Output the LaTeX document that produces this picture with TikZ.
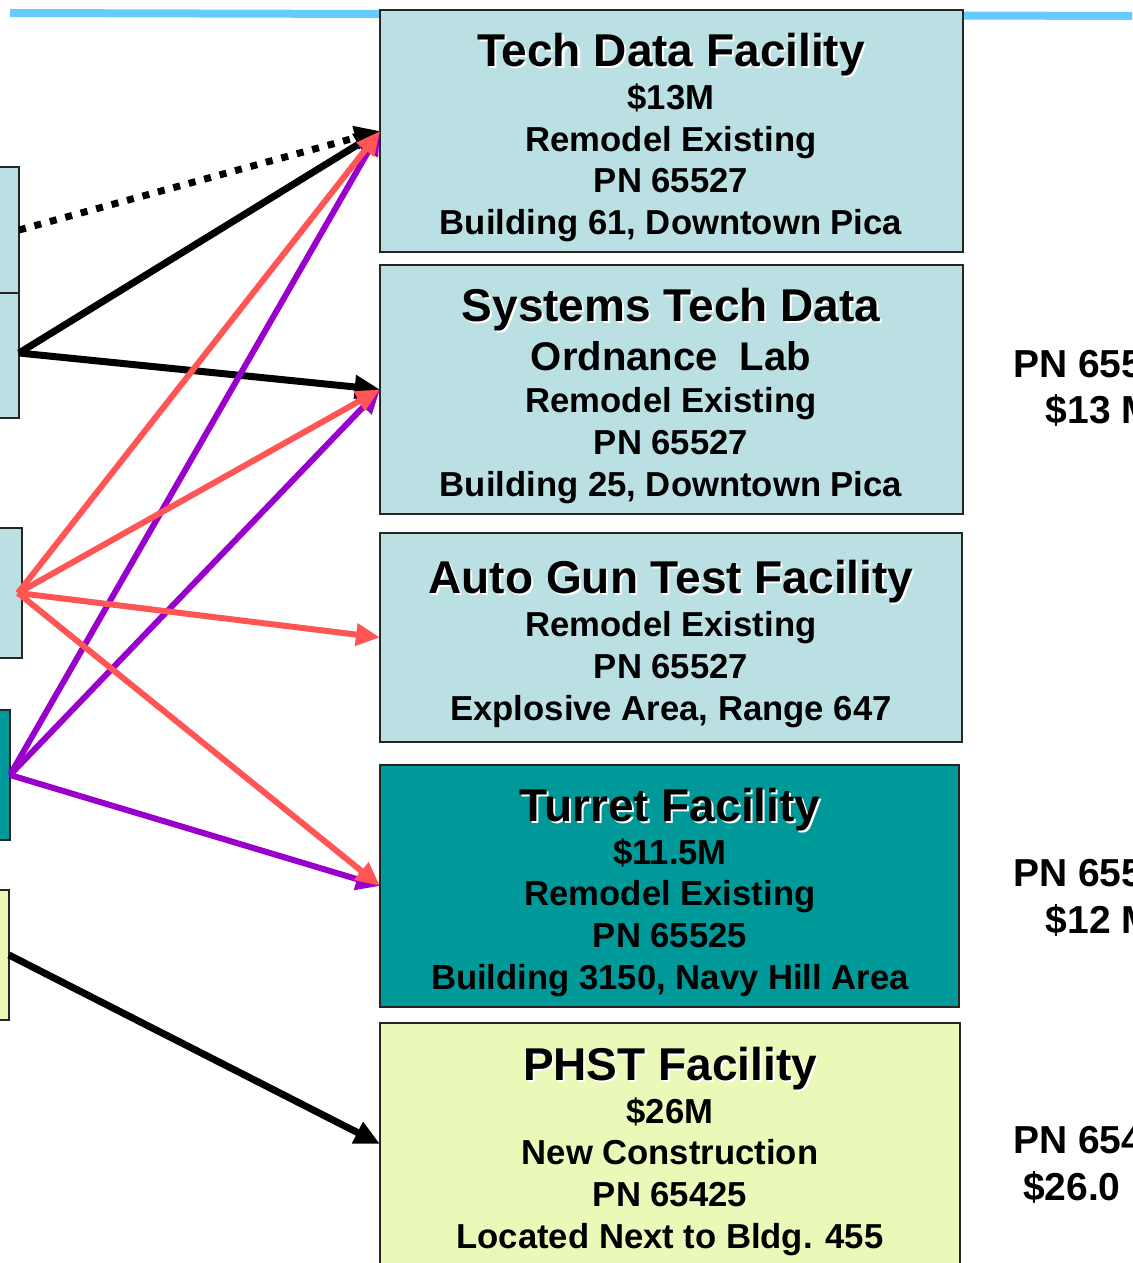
\documentclass[tikz,border=0pt]{standalone}
\usepackage{fontspec}
\setmainfont{Liberation Sans}
\usetikzlibrary{arrows.meta}
\definecolor{lblue}{HTML}{BBE0E3}
\definecolor{tealbox}{HTML}{009999}
\definecolor{lyel}{HTML}{EAF8B8}
\definecolor{topline}{HTML}{66CCFF}
\definecolor{redar}{HTML}{FF5555}
\definecolor{purar}{HTML}{9900CC}
\tikzset{
  fbox/.style={draw=black!85, line width=1.5pt, inner sep=0pt, outer sep=0pt},
  ttl/.style={font=\bfseries\fontsize{34.5}{36}\selectfont, text height=24.7pt, text depth=0pt, inner sep=0pt},
  ttlshadow/.style={ttl, text=white},
  mid/.style={font=\bfseries\fontsize{30}{32}\selectfont, text height=21.5pt, text depth=0pt, inner sep=0pt},
  body/.style={font=\bfseries\fontsize{26}{28}\selectfont, text height=18.6pt, text depth=0pt, inner sep=0pt},
  side/.style={font=\bfseries\fontsize{29.25}{31}\selectfont, text height=20.9pt, text depth=0pt, inner sep=0pt},
  blkar/.style={draw=black, line width=5.25pt, -{Triangle[length=19pt,width=17pt]}},
  dotar/.style={blkar, dash pattern=on 5.25pt off 6.75pt},
  redarrow/.style={draw=redar, line width=4.5pt, -{Triangle[length=18pt,width=16pt]}},
  purarrow/.style={draw=purar, line width=4.5pt, -{Triangle[length=18pt,width=16pt]}}
}
\begin{document}
\begin{tikzpicture}[x=0.75pt,y=-0.75pt]
\useasboundingbox (0,0) rectangle (1132,1263);
\clip (0,0) rectangle (1132,1263);

% top line
\coordinate (tlA) at (10,13);
\coordinate (tlB) at (1140,16);
\draw[topline, line width=6pt] (tlA) -- (tlB);

% left partial boxes
\node[fbox, fill=lblue, minimum width=40*0.75pt, minimum height=130*0.75pt] (lB) at (-1,353) {};
\node[fbox, fill=lblue, minimum width=40*0.75pt, minimum height=126*0.75pt] (lA) at (-1,230) {};
\node[fbox, fill=lblue, minimum width=42*0.75pt, minimum height=130*0.75pt] (lC) at (1,593) {};
\node[fbox, fill=tealbox, minimum width=30*0.75pt, minimum height=130*0.75pt] (lD) at (-5,775) {};
\node[fbox, fill=lyel, minimum width=29*0.75pt, minimum height=130*0.75pt] (lE) at (-5.5,955) {};

% right boxes
\node[fbox, fill=lblue, minimum width=583*0.75pt, minimum height=242*0.75pt] (b1) at (671.5,131) {};
\node[fbox, fill=lblue, minimum width=583*0.75pt, minimum height=249*0.75pt] (b2) at (671.5,389.5) {};
\node[fbox, fill=lblue, minimum width=582*0.75pt, minimum height=209*0.75pt] (b3) at (671,637.5) {};
\node[fbox, fill=tealbox, minimum width=579*0.75pt, minimum height=242*0.75pt] (b4) at (669.5,886) {};
\node[fbox, fill=lyel, minimum width=580*0.75pt, minimum height=242*0.75pt] (b5) at (670,1144) {};

% box 1 text
\node[ttlshadow] (b1s) at (673,52) {Tech Data Facility};
\node[ttl] (b1a) at (671,50) {Tech Data Facility};
\node[body] (b1b) at (671,97) {\$13M};
\node[body] (b1c) at (671,139) {Remodel Existing};
\node[body] (b1d) at (671,180) {PN 65527};
\node[body] (b1e) at (671,222) {Building 61, Downtown Pica};

% box 2 text
\node[ttlshadow] (b2s) at (673,307) {Systems Tech Data};
\node[ttl] (b2a) at (671,305) {Systems Tech Data};
\node[mid] (b2b) at (671,356) {Ordnance\ \ Lab};
\node[body] (b2c) at (671,400) {Remodel Existing};
\node[body] (b2d) at (671,442) {PN 65527};
\node[body] (b2e) at (671,484) {Building 25, Downtown Pica};

% box 3 text
\node[ttlshadow] (b3s) at (673,579) {Auto Gun Test Facility};
\node[ttl] (b3a) at (671,577) {Auto Gun Test Facility};
\node[body] (b3b) at (671,624) {Remodel Existing};
\node[body] (b3c) at (671,666) {PN 65527};
\node[body] (b3d) at (671,708) {Explosive Area, Range 647};

% box 4 text
\node[ttlshadow] (b4s) at (672,807) {Turret Facility};
\node[ttl] (b4a) at (670,805) {Turret Facility};
\node[body] (b4b) at (670,852) {\$11.5M};
\node[body] (b4c) at (670,893) {Remodel Existing};
\node[body] (b4d) at (670,935) {PN 65525};
\node[body] (b4e) at (670,977) {Building 3150, Navy Hill Area};

% box 5 text
\node[ttlshadow] (b5s) at (672,1066) {PHST Facility};
\node[ttl] (b5a) at (670,1064) {PHST Facility};
\node[body] (b5b) at (670,1111) {\$26M};
\node[body] (b5c) at (670,1152) {New Construction};
\node[body] (b5d) at (670,1194) {PN 65425};
\node[body] (b5e) at (670,1236) {Located Next to Bldg. 455};

% right side labels (cut off by the page edge, as in the reference)
\node[side] (r1a) at (1100,364) {PN 65527};
\node[side] (r1b) at (1100,410) {\$13 M};
\node[side] (r2a) at (1100,873) {PN 65525};
\node[side] (r2b) at (1100,920) {\$12 M};
\node[side] (r3a) at (1100,1140) {PN 65425};
\node[side] (r3b) at (1093.5,1187) {\$26.0 M};

% connectors
\draw[dotar] (lA.east) -- (b1.west);
\draw[blkar] (lB.east) -- (b1.west);
\draw[blkar] (lB.east) -- (b2.west);
\draw[purarrow] (lD.east) -- (b1.west);
\draw[purarrow] (lD.east) -- (b2.west);
\draw[purarrow] (lD.east) -- (b4.west);
\draw[redarrow] ([xshift=-3pt]lC.east) -- (b1.west);
\draw[redarrow] ([xshift=-3pt]lC.east) -- (b2.west);
\draw[redarrow] ([xshift=-3pt]lC.east) -- (b3.west);
\draw[redarrow] ([xshift=-3pt]lC.east) -- (b4.west);
\draw[blkar] (lE.east) -- (b5.west);
\end{tikzpicture}
\end{document}
